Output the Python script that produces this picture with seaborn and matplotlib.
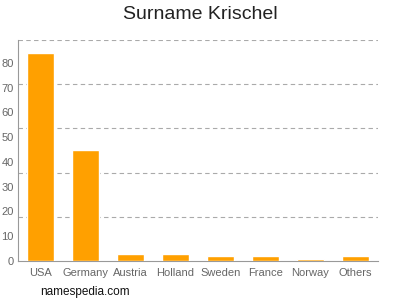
import matplotlib
matplotlib.use("Agg")
import matplotlib.pyplot as plt
import seaborn as sns
import pandas as pd

countries = ["USA", "Germany", "Austria", "Holland", "Sweden", "France", "Norway", "Others"]
counts = [84, 45, 3, 3, 2, 2, 1, 2]
yticks = [0, 10, 20, 30, 40, 50, 60, 70, 80]

sns.set_theme(style="white")
plt.rcParams['font.family'] = ['Liberation Sans', 'DejaVu Sans']

df = pd.DataFrame({"country": countries, "count": counts})

fig = plt.figure(figsize=(4, 3), dpi=100)
ax = fig.add_axes([0.045, 0.13, 0.9, 0.737])
sns.barplot(data=df, x="country", y="count", color="#FFA000", saturation=1,
            width=0.62, ax=ax, zorder=3)

ymax = 89.3
ax.set_ylim(0, ymax)
ax.set_xlim(-0.5, len(countries) - 0.5)
for k in range(1, 6):
    ax.axhline(ymax * k / 5, color="#aaaaaa", lw=0.8, ls=(0, (4, 3)), zorder=1)

ax.set_yticks(yticks)
ax.set_yticklabels([str(v) for v in yticks])
ax.tick_params(axis="y", labelsize=8, colors="#999999", labelcolor="#666666",
               length=2, width=0.8, pad=1)
ax.tick_params(axis="x", labelsize=8, colors="#999999", labelcolor="#666666",
               length=3, width=0.8, pad=2)
ax.set_xlabel("")
ax.set_ylabel("")
for s in ["top", "right"]:
    ax.spines[s].set_visible(False)
for s in ["left", "bottom"]:
    ax.spines[s].set_color("#999999")
    ax.spines[s].set_linewidth(0.8)

fig.text(0.5, 0.953, "Surname Krischel", ha="center", va="center", fontsize=14, color="#222222")
fig.text(0.1, 0.027, "namespedia.com", ha="left", va="center", fontsize=8.5, color="#111111")

fig.savefig("out.png", dpi=100)
